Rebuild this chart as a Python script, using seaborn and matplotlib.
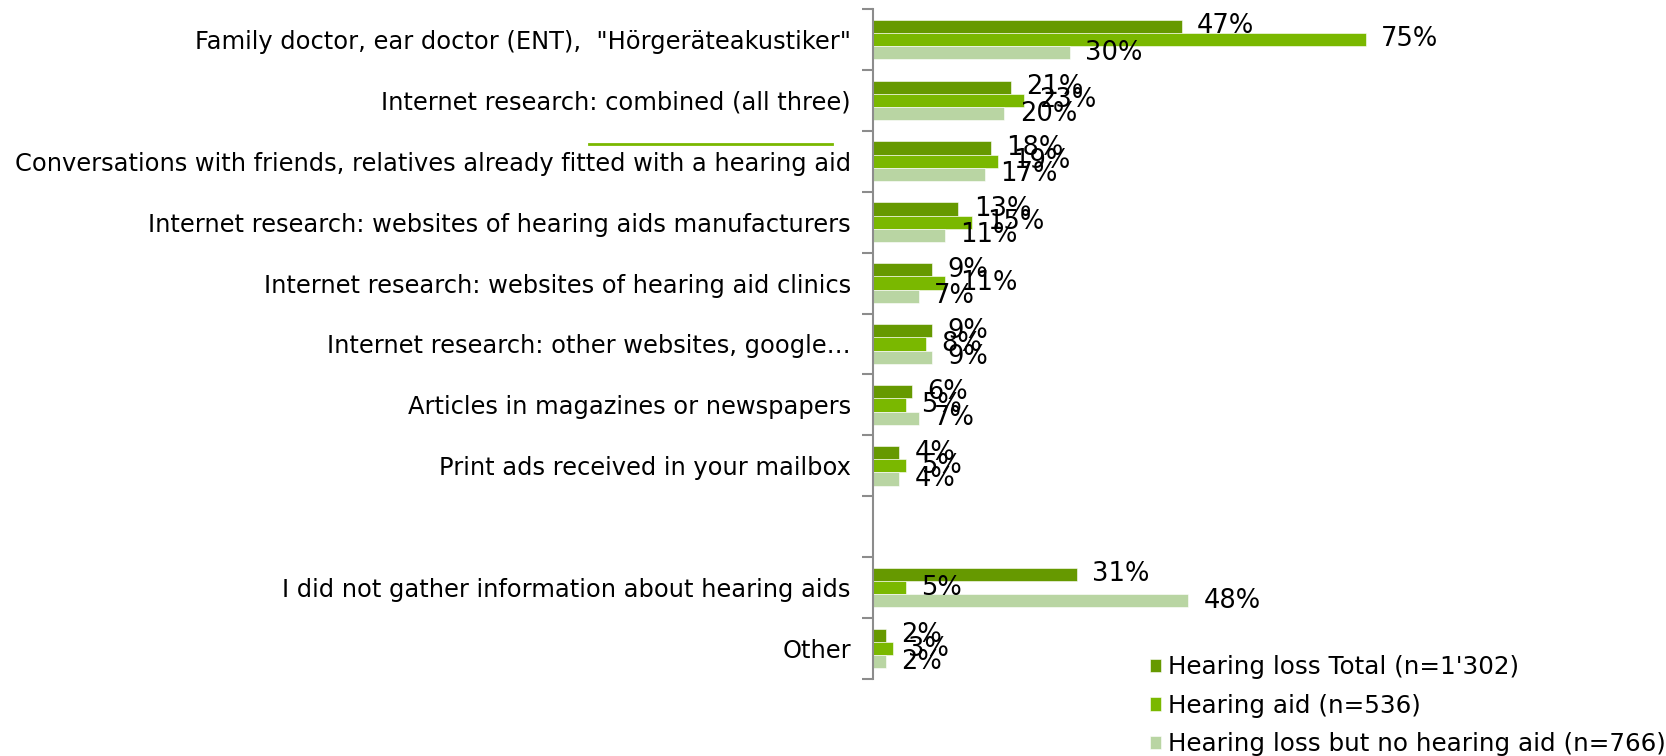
import numpy as np
import pandas as pd
import matplotlib
matplotlib.use("Agg")
import matplotlib.pyplot as plt
import seaborn as sns
from matplotlib.lines import Line2D

# Kategoriler (boş satır grafikteki boşluk için)
categories = [
    'Family doctor, ear doctor (ENT),  "Hörgeräteakustiker"',
    "Internet research: combined (all three)",
    "Conversations with friends, relatives already fitted with a hearing aid",
    "Internet research: websites of hearing aids manufacturers",
    "Internet research: websites of hearing aid clinics",
    "Internet research: other websites, google…",
    "Articles in magazines or newspapers",
    "Print ads received in your mailbox",
    " ",
    "I did not gather information about hearing aids",
    "Other",
]

series = [
    "Hearing loss Total (n=1'302)",
    "Hearing aid (n=536)",
    "Hearing loss but no hearing aid (n=766)",
]

total_vals = [47, 21, 18, 13, 9, 9, 6, 4, None, 31, 2]
aid_vals = [75, 23, 19, 15, 11, 8, 5, 5, None, 5, 3]
noaid_vals = [30, 20, 17, 11, 7, 9, 7, 4, None, 48, 2]

colors = ["#669900", "#7AB800", "#B9D5A3"]

rows = []
for s, vals in zip(series, [total_vals, aid_vals, noaid_vals]):
    for c, v in zip(categories, vals):
        if v is not None:
            rows.append({"category": c, "series": s, "value": v})
df = pd.DataFrame(rows)

plt.rcParams["font.family"] = ["DejaVu Sans"]
fs = 17.4

fig = plt.figure(figsize=(16.66, 7.56), dpi=100)
ax = fig.add_axes([873 / 1666, 1 - 679 / 756, 1 - 873 / 1666, (679 - 9) / 756])

sns.barplot(
    data=df, y="category", x="value", hue="series",
    order=categories, hue_order=series, palette=colors, saturation=1,
    orient="h", width=0.65, edgecolor="white", linewidth=0.4,
    errorbar=None, legend=True, ax=ax,
)

for cont in ax.containers:
    ax.bar_label(cont, fmt="%d%%", padding=11, fontsize=18.5, color="black")

ax.set_xlim(0, (1666 - 873) / 6.57)
ax.set_ylim(len(categories) - 0.5, -0.5)
ax.set_xlabel("")
ax.set_ylabel("")
ax.set_xticks([])

for side in ["top", "right", "bottom"]:
    ax.spines[side].set_visible(False)
ax.spines["left"].set_color("#8c8c8c")
ax.spines["left"].set_linewidth(1.5)

ax.set_yticks(np.arange(len(categories)))
ax.set_yticklabels(categories, fontsize=fs)
ax.set_yticks(np.arange(-0.5, len(categories)), minor=True)
ax.tick_params(axis="y", which="major", length=0, pad=16)
ax.tick_params(axis="y", which="minor", length=8, width=1.5, color="#8c8c8c")

# Legend sağ altta
handles, labels = ax.get_legend_handles_labels()
ax.get_legend().remove()
fig.legend(
    handles, labels, loc="upper left",
    bbox_to_anchor=(1150 / 1666, 1 - 655 / 756),
    frameon=False, fontsize=17.7, borderpad=0, borderaxespad=0,
    handlelength=0.45, handleheight=0.45, handletextpad=0.3,
    labelspacing=0.6,
)

# Etiketin üstündeki yeşil çizgi
fig.add_artist(Line2D([589 / 1666, 832 / 1666], [1 - 144 / 756, 1 - 144 / 756],
                      color="#7AB800", linewidth=2, transform=fig.transFigure))

fig.savefig("out.png", dpi=100)
